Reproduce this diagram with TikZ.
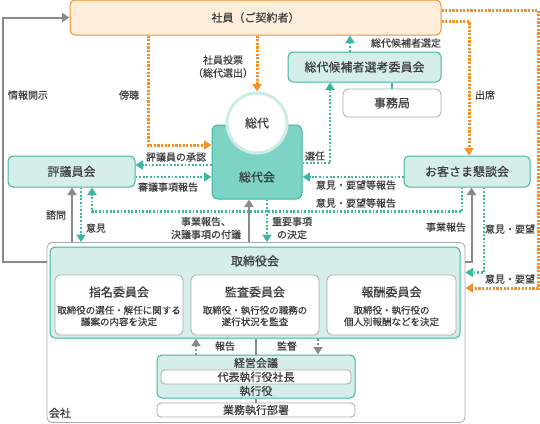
\documentclass[tikz,border=0pt]{standalone}
\usepackage{fontspec}
\setmainfont{Noto Sans CJK JP}[FakeBold=0.4]
\usetikzlibrary{arrows.meta,calc}
\definecolor{tealb}{HTML}{3DB6A2}
\definecolor{tealf}{HTML}{D6EEEA}
\definecolor{tealm}{HTML}{7DD3C4}
\definecolor{tealr}{HTML}{CDECE6}
\definecolor{orng}{HTML}{F0912A}
\definecolor{orf}{HTML}{FDEEDC}
\definecolor{gry}{HTML}{8A8A8A}
\definecolor{gryb}{HTML}{AAAAAA}
\definecolor{txt}{HTML}{3C3C3C}
\begin{document}
\begin{tikzpicture}[x=1pt,y=-1pt,
  every node/.style={inner sep=0pt, text=txt},
  obox/.style={draw=orng, fill=orf, line width=1pt, rounded corners=5pt, font=\fontsize{11}{13}\selectfont},
  tbox/.style={draw=tealb, fill=tealf, line width=1pt, rounded corners=5pt, font=\fontsize{12}{14}\selectfont},
  wbox/.style={draw=gryb, fill=white, line width=0.8pt, rounded corners=5pt, font=\fontsize{12}{14}\selectfont},
  ibox/.style={draw=gryb, fill=white, line width=0.8pt, rounded corners=4pt, font=\fontsize{11}{13}\selectfont},
  ttl/.style={font=\fontsize{12}{14}\selectfont},
  sml/.style={font=\fontsize{11}{13}\selectfont},
  dsc/.style={font=\fontsize{9.5}{11.5}\selectfont, align=center},
  lab/.style={font=\fontsize{10}{13}\selectfont, align=center},
  tip/.style={-{Triangle[width=9pt,length=7.5pt]}},
  oarr/.style={draw=orng, line width=3pt, dash pattern=on 2.2pt off 1.4pt, tip},
  tarr/.style={draw=tealb, line width=2.4pt, dash pattern=on 1.8pt off 1.8pt, tip},
  garr/.style={draw=gry, line width=2pt, tip},
  gdarr/.style={draw=gry, line width=1.8pt, dash pattern=on 2pt off 2pt, tip},
  gline/.style={draw=gry, line width=1.6pt},
  tline/.style={draw=tealb, line width=1.6pt}
]
\useasboundingbox (0,0) rectangle (540,423);

% ---------- boxes ----------
\node[obox, minimum width=371pt, minimum height=35pt] (shain) at (255.5,17.5) {社員（ご契約者）};
\node[tbox, minimum width=153pt, minimum height=30pt] (senkou) at (364.5,67) {総代候補者選考委員会};
\node[wbox, minimum width=98pt, minimum height=28pt] (jimu) at (392,103) {事務局};
\node[tbox, minimum width=126pt, minimum height=31pt] (okyaku) at (467,171.5) {お客さま懇談会};
\node[tbox, minimum width=127pt, minimum height=31pt] (hyogi) at (71.5,171.5) {評議員会};
\node[draw=tealb, fill=tealm, line width=1pt, rounded corners=6pt, minimum width=90pt, minimum height=74pt] (sodaikai) at (257,162) {};
\node[ttl] at (257,177) {総代会};
\node[circle, draw=tealr, line width=3pt, fill=white, minimum size=60pt, ttl] (sodai) at (257,123) {総代};

\node[wbox, minimum width=418pt, minimum height=180pt] (kaisha) at (256,332.5) {};
\node[sml] at (60,413) {会社};
\node[tbox, minimum width=410pt, minimum height=91pt] (torishimari) at (255,292.5) {};
\node[ttl] at (255,261) {取締役会};

\node[wbox, minimum width=128pt, minimum height=60pt] (shimei) at (119,305) {};
\node[ttl] at (119,292) {指名委員会};
\node[dsc] at (119,316) {取締役の選任・解任に関する\\議案の内容を決定};
\node[wbox, minimum width=128pt, minimum height=60pt] (kansa) at (255,305) {};
\node[ttl] at (255,292) {監査委員会};
\node[dsc] at (255,316) {取締役・執行役の職務の\\遂行状況を監査};
\node[wbox, minimum width=129pt, minimum height=60pt] (hoshu) at (391.5,305) {};
\node[ttl] at (391.5,292) {報酬委員会};
\node[dsc] at (391.5,316) {取締役・執行役の\\個人別報酬などを決定};

\node[tbox, minimum width=198pt, minimum height=43pt] (keiei) at (256,376.5) {};
\node[sml] at (256,363) {経営会議};
\node[ibox, minimum width=190pt, minimum height=14pt] (daihyo) at (256,377) {代表執行役社長};
\node[sml] at (256,391) {執行役};
\node[ibox, minimum width=198pt, minimum height=14pt] (gyomu) at (256,410) {業務執行部署};

% ---------- coordinates ----------
\coordinate (jL) at (3,262);
\coordinate (jT) at (3,17.5);
\coordinate (bC) at (148,145);
\coordinate (sx) at (350,0);
\coordinate (snC) at (330,163);
\coordinate (sa) at (469,21);
\coordinate (oa) at (538,10);
\coordinate (ob) at (538,288);
\coordinate (h1) at (0,165);
\coordinate (h2) at (0,177);
\coordinate (la) at (462,211.5);
\coordinate (lb) at (92,211.5);
\coordinate (s1) at (72,0);
\coordinate (s2) at (81,0);
\coordinate (s3) at (249,0);
\coordinate (s4) at (267,0);
\coordinate (r1) at (471.5,262);
\coordinate (r2) at (484,272.5);
\coordinate (k1) at (196,0);
\coordinate (k2) at (318,0);

% ---------- connectors ----------
\draw[garr] (kaisha.west |- jL) -- (jL) -- (jT) -- (shain.west);
\draw[oarr] (shain.south -| bC) -- (bC) -- (sodaikai.west |- bC);
\draw[oarr] (shain.south -| sodai.north) -- (sodai.north);
\draw[tarr] (senkou.north -| sx) -- (shain.south -| sx);
\draw[tarr] (sodaikai.east |- snC) -- (snC) -- (senkou.south -| snC);
\draw[tline] (senkou.south -| jimu.north) -- (jimu.north);
\draw[oarr] (shain.east |- sa) -- (sa) -- (okyaku.north -| sa);
\draw[oarr] (shain.east |- oa) -- (oa) -- (ob) -- (kaisha.east |- ob);
\draw[tarr] (sodaikai.west |- h1) -- (hyogi.east |- h1);
\draw[tarr] (hyogi.east |- h2) -- (sodaikai.west |- h2);
\draw[tarr] (okyaku.west |- h2) -- (sodaikai.east |- h2);
\draw[tarr] (okyaku.south -| la) -- (la) -- (lb) -- (hyogi.south -| lb);
\draw[garr] (kaisha.north -| s1) -- (hyogi.south -| s1);
\draw[tarr] (hyogi.south -| s2) -- (kaisha.north -| s2);
\draw[garr] (kaisha.north -| s3) -- (sodaikai.south -| s3);
\draw[tarr] (sodaikai.south -| s4) -- (kaisha.north -| s4);
\draw[garr] (kaisha.east |- r1) -- (r1) -- (okyaku.south -| r1);
\draw[tarr] (okyaku.south -| r2) -- (r2) -- (kaisha.east |- r2);
\draw[gdarr] (keiei.north -| k1) -- (torishimari.south -| k1);
\draw[gline] (torishimari.south -| keiei.north) -- (keiei.north);
\draw[gdarr] (torishimari.south -| k2) -- (keiei.north -| k2);
\draw[gline] (keiei.south) -- (gyomu.north);

% ---------- labels ----------
\node[lab] at (28,95) {情報開示};
\node[lab] at (129,95) {傍聴};
\node[lab] at (223,66.5) {社員投票\\（総代選出）};
\node[lab] at (406,43) {総代候補者選定};
\node[lab] at (485,95) {出席};
\node[lab] at (315,156) {選任};
\node[lab] at (176,157) {評議員の承認};
\node[lab] at (168,187) {審議事項報告};
\node[lab] at (356,185) {意見・要望等報告};
\node[lab] at (356,203) {意見・要望等報告};
\node[lab] at (56,215) {諮問};
\node[lab] at (96,228) {意見};
\node[lab] at (206,228) {事業報告、\\決議事項の付議};
\node[lab] at (292,228) {重要事項\\の決定};
\node[lab] at (446,227) {事業報告};
\node[lab] at (510,229) {意見・要望};
\node[lab] at (510,279) {意見・要望};
\node[lab] at (225,346) {報告};
\node[lab] at (287,346) {監督};
\end{tikzpicture}
\end{document}
